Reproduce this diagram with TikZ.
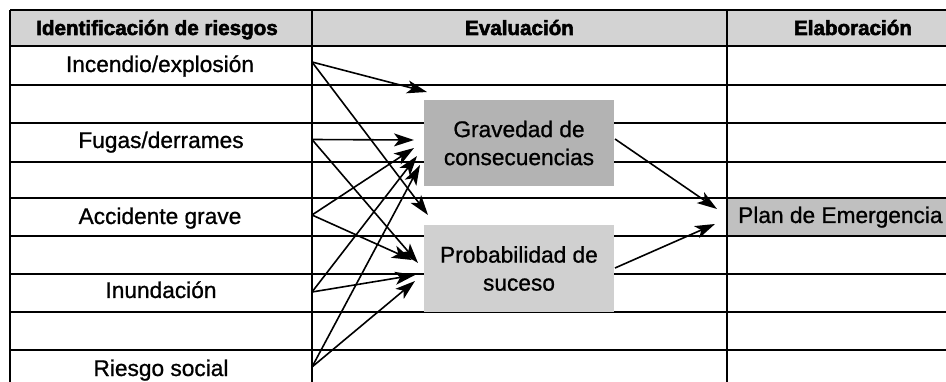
\documentclass[tikz,border=0pt]{standalone}
\usepackage{fontspec}
\setmainfont{Liberation Sans}
\newfontfamily\bodyf{Liberation Sans}[FakeBold=0.9]
\newfontfamily\hdrf{Liberation Sans}[BoldFeatures={FakeBold=2.6}]
\usetikzlibrary{arrows.meta}
\definecolor{hdrgray}{HTML}{D3D3D3}
\definecolor{gravgray}{HTML}{B3B3B3}
\definecolor{probgray}{HTML}{D0D0D0}
\definecolor{plangray}{HTML}{C0C0C0}
\begin{document}
\begin{tikzpicture}[x=1pt,y=-1pt,
  gridline/.style={line width=1.7pt, black},
  lbl/.style={font=\fontsize{22.7}{28}\bodyf, anchor=base, inner sep=0pt},
  hdr/.style={font=\fontsize{20.6}{24}\hdrf\bfseries, anchor=base, inner sep=0pt},
  evalbox/.style={draw=none, minimum width=190pt, align=center, inner sep=0pt,
    font=\fontsize{22.7}{28}\bodyf},
  arr/.style={line width=1.6pt, -{Stealth[length=20pt,width=13pt,inset=5pt]}}]
\useasboundingbox (0,0) rectangle (946,382);
\clip (0,0) rectangle (946,382);
% fills
\fill[hdrgray] (10,10) rectangle (990,46);
\fill[plangray] (727,198) rectangle (990,236);
% grid
\foreach \yy in {10,46,85,123,162,198,236,274,312,350}
  \draw[gridline] (10,\yy) -- (990,\yy);
\foreach \xx in {10,312,727}
  \draw[gridline] (\xx,10) -- (\xx,400);
% headers
\node[hdr] (h1) at (157,35) {Identificación de riesgos};
\node[hdr] (h2) at (519.5,35) {Evaluación};
\node[hdr] (h3) at (853,35) {Elaboración};
% risk labels
\node[lbl] (r1) at (160,72) {Incendio/explosión};
\node[lbl] (r2) at (161,148) {Fugas/derrames};
\node[lbl] (r3) at (160,224) {Accidente grave};
\node[lbl] (r4) at (161,298) {Inundación};
\node[lbl] (r5) at (161,376) {Riesgo social};
% evaluation boxes
\node[evalbox, fill=gravgray, minimum height=86pt] (grav) at (519,143) {Gravedad de\\consecuencias};
\node[evalbox, fill=probgray, minimum height=87pt] (prob) at (519,268.5) {Probabilidad de\\suceso};
% plan
\node[lbl, anchor=base west] (plan) at (738,223) {Plan de Emergencia};
% arrow coordinates
\coordinate (s1) at (312,62);
\coordinate (s2) at (312,139.5);
\coordinate (s3) at (312,215);
\coordinate (s4) at (312,292);
\coordinate (s5) at (312,367);
\coordinate (t1a) at (427,92);
\coordinate (t1b) at (428,215);
\coordinate (t2a) at (414,140);
\coordinate (t2b) at (418,263);
\coordinate (t3a) at (414,148);
\coordinate (t3b) at (412,260);
\coordinate (t4a) at (417,156);
\coordinate (t4b) at (415,275);
\coordinate (t5a) at (420,165);
\coordinate (t5b) at (415,281);
\coordinate (g0) at (615,139);
\coordinate (p0) at (615,268);
\coordinate (pa) at (717,209);
\coordinate (pb) at (715,224);
% arrows
\draw[arr] (s1) -- (t1a);
\draw[arr] (s1) -- (t1b);
\draw[arr] (s2) -- (t2a);
\draw[arr] (s2) -- (t2b);
\draw[arr] (s3) -- (t3a);
\draw[arr] (s3) -- (t3b);
\draw[arr] (s4) -- (t4a);
\draw[arr] (s4) -- (t4b);
\draw[arr] (s5) -- (t5a);
\draw[arr] (s5) -- (t5b);
\draw[arr] (g0) -- (pa);
\draw[arr] (p0) -- (pb);
\end{tikzpicture}
\end{document}
